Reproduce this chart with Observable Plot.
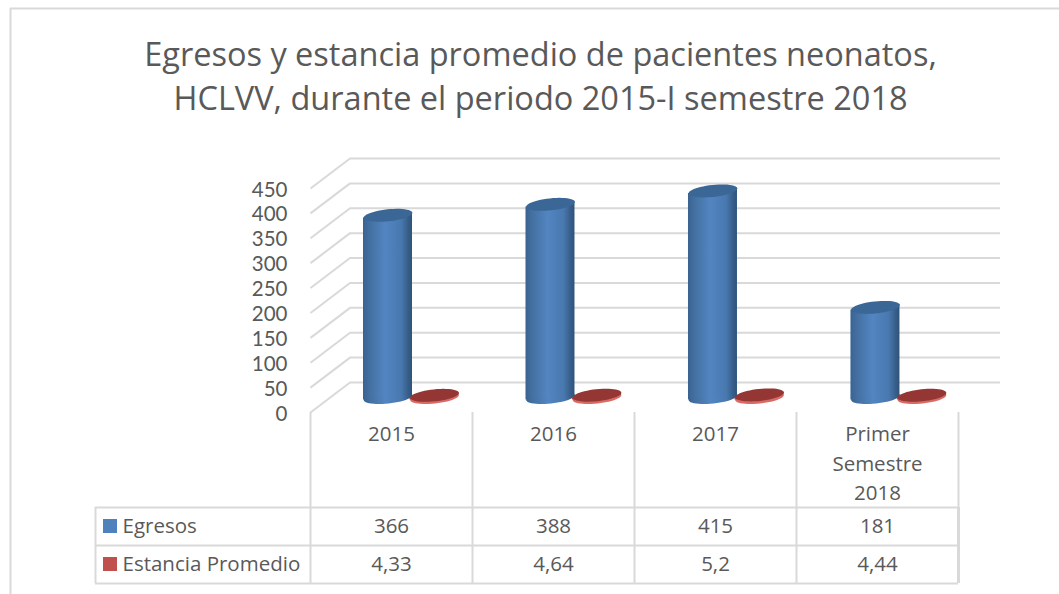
<!DOCTYPE html>
<html lang="es">
<head>
<meta charset="utf-8">
<script src="https://cdn.jsdelivr.net/npm/d3@7"></script>
<script src="https://cdn.jsdelivr.net/npm/@observablehq/plot@0.6"></script>
<style>
html,body{margin:0;padding:0;background:#fff;overflow:hidden}
svg{display:block}
</style>
</head>
<body>
<div id="chart"></div>
<script>
const categories = ["2015", "2016", "2017", "Primer\nSemestre\n2018"];
const egresos = [366, 388, 415, 181];
const estancia = [4.33, 4.64, 5.2, 4.44];
const yTicks = [0, 50, 100, 150, 200, 250, 300, 350, 400, 450];
const seriesNames = ["Egresos", "Estancia Promedio"];
const titleLines = [
  "Egresos y estancia promedio de pacientes neonatos,",
  "HCLVV, durante el periodo 2015-I semestre 2018"
];

const INK = "#595959", GRID = "#d9d9d9";
const W = 1059, H = 594, L = 310, R = 958, Y0 = 412, Y450 = 188;
const xAt = px => (px - L) / (R - L) * 4;
const yAt = px => (Y0 - px) / (Y0 - Y450) * 450;
const depthX = xAt(L + 39.5);
const depthY = yAt(Y0 - 30);
const cols = categories.map((c, i) => i);
const offset = 0.1435, half = 0.1512, pitch = 1.003;
const blueX = i => i * pitch + 0.5 + depthX / 2 - offset;
const redX = i => i * pitch + 0.5 + depthX / 2 + offset;
const base = depthY / 2;
const tilt = yAt(Y0 - 2.6);
const comma = v => String(v).replace(".", ",");

// Tilted ellipse for the cylinder caps, sized by the dot's radius.
const cap = {
  draw(ctx, size) {
    const r = Math.sqrt(size / Math.PI), ry = r * 0.245, a = -0.105;
    for (let k = 0; k <= 48; k++) {
      const t = k / 48 * 2 * Math.PI;
      const ex = r * Math.cos(t), ey = ry * Math.sin(t);
      const px = ex * Math.cos(a) - ey * Math.sin(a);
      const py = ex * Math.sin(a) + ey * Math.cos(a);
      k ? ctx.lineTo(px, py) : ctx.moveTo(px, py);
    }
    ctx.closePath();
  }
};
const capR = 24.5;

function defs() {
  const d = d3.create("svg:defs");
  const g = d.append("linearGradient").attr("id", "blueCyl");
  [[0, "#3a6291"], [0.12, "#426f9f"], [0.45, "#5385c2"], [0.78, "#4878ae"], [0.92, "#375e8a"], [1, "#2f5379"]]
    .forEach(([o, c]) => g.append("stop").attr("offset", o).attr("stop-color", c));
  return d.node();
}

// A cylinder's side wall, slanted so that it meets the tilted caps.
const wall = (centre, values) => cols.flatMap(i => [
  {i, x: centre(i) - half, y1: base - tilt, y2: values[i] + base - tilt},
  {i, x: centre(i) + half, y1: base + tilt, y2: values[i] + base + tilt}
]);

const rowY = [526, 564];
const table = {top: 507, mid: 545, bottom: 583, left: 95};
const bodySize = 20.5;

const plot = Plot.plot({
  width: W, height: H,
  marginLeft: L, marginRight: W - R, marginTop: Y450, marginBottom: H - Y0,
  x: {domain: [0, 4], axis: null},
  y: {domain: [0, 450], axis: null},
  style: {fontFamily: "'Open Sans', sans-serif", background: "#fff", color: INK},
  marks: [
    defs,
    // outer chart border
    Plot.ruleY([yAt(8)], {x1: xAt(10), x2: xAt(W), stroke: GRID, strokeWidth: 2}),
    Plot.ruleX([xAt(10)], {y1: yAt(8), y2: yAt(H), stroke: GRID, strokeWidth: 2}),
    // title
    Plot.text(titleLines, {
      text: d => d, x: xAt(540), y: (d, i) => yAt(55 + i * 44),
      fontSize: 32.5, fill: INK, textAnchor: "middle", lineAnchor: "middle"
    }),
    // back wall grid and floor-side diagonals
    Plot.ruleY(yTicks, {y: d => d + depthY, x1: depthX, x2: xAt(1000), stroke: GRID, strokeWidth: 2}),
    Plot.link(yTicks, {x1: 0, y1: d => d, x2: depthX, y2: d => d + depthY, stroke: GRID, strokeWidth: 2}),
    // y axis
    Plot.axisY(yTicks, {tickSize: 0, tickPadding: 23, fontSize: 20.5, fontFamily: "Lato, sans-serif", color: INK, label: null, dy: 1.5}),
    // category separators and data table
    Plot.ruleX(d3.range(5), {y1: 0, y2: yAt(table.bottom), stroke: GRID, strokeWidth: 2}),
    Plot.ruleY([table.top, table.mid, table.bottom], {y: yAt, x1: xAt(table.left), x2: 4, stroke: GRID, strokeWidth: 2}),
    Plot.ruleX([xAt(table.left)], {y1: yAt(table.top), y2: yAt(table.bottom), stroke: GRID, strokeWidth: 2}),
    Plot.ruleX([4], {y1: yAt(table.top), y2: yAt(table.bottom), stroke: GRID, strokeWidth: 3}),
    Plot.text(categories, {
      text: d => d, x: (d, i) => i + 0.5, y: yAt(420),
      fontSize: bodySize, fill: INK, textAnchor: "middle", lineAnchor: "top", lineHeight: 1.44
    }),
    Plot.text(egresos, {
      text: d => comma(d), x: (d, i) => i + 0.5, y: yAt(rowY[0]),
      fontSize: bodySize, fill: INK, textAnchor: "middle", lineAnchor: "middle"
    }),
    Plot.text(estancia, {
      text: d => comma(d), x: (d, i) => i + 0.5, y: yAt(rowY[1]),
      fontSize: bodySize, fill: INK, textAnchor: "middle", lineAnchor: "middle"
    }),
    Plot.text(seriesNames, {
      text: d => d, x: xAt(122), y: (d, i) => yAt(rowY[i]),
      fontSize: bodySize, fill: INK, textAnchor: "start", lineAnchor: "middle"
    }),
    Plot.rect(seriesNames, {
      x1: xAt(103), x2: xAt(117),
      y1: (d, i) => yAt(rowY[i] - 7), y2: (d, i) => yAt(rowY[i] + 7),
      fill: (d, i) => i ? "#c0504d" : "#4f81bd"
    }),
    // Egresos cylinders
    Plot.dot(cols, {x: blueX, y: base, r: capR, symbol: cap, fill: "url(#blueCyl)", stroke: "none"}),
    Plot.area(wall(blueX, egresos), {x1: "x", y1: "y1", y2: "y2", z: "i", fill: "url(#blueCyl)"}),
    Plot.dot(cols, {x: blueX, y: i => egresos[i] + base, r: capR, symbol: cap, fill: "#3b6796", stroke: "none"}),
    // Estancia Promedio cylinders
    Plot.dot(cols, {x: redX, y: base, r: capR, symbol: cap, fill: "#d96b67", stroke: "none"}),
    Plot.area(wall(redX, estancia), {x1: "x", y1: "y1", y2: "y2", z: "i", fill: "#b84744"}),
    Plot.dot(cols, {x: redX, y: i => estancia[i] + base, r: capR, symbol: cap, fill: "#943634", stroke: "none"})
  ]
});
document.getElementById("chart").append(plot);
</script>
</body>
</html>
